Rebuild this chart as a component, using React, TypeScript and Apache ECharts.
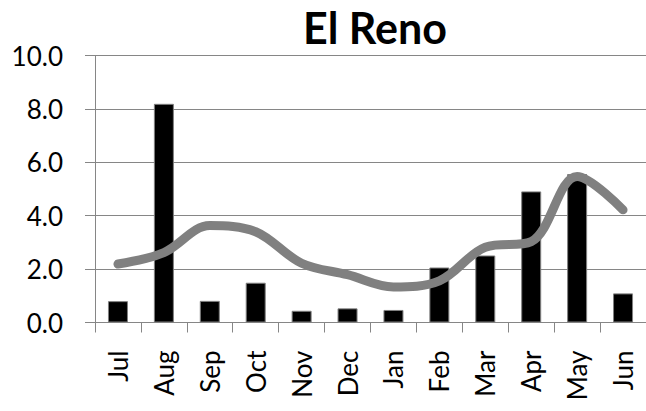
import React, { useEffect, useRef } from "react";
import * as echarts from "echarts";

const months = ["Jul", "Aug", "Sep", "Oct", "Nov", "Dec", "Jan", "Feb", "Mar", "Apr", "May", "Jun"];
const barValues = [0.8, 8.19, 0.81, 1.49, 0.44, 0.53, 0.47, 2.06, 2.51, 4.91, 5.56, 1.09];
const lineValues = [2.19, 2.62, 3.63, 3.4, 2.22, 1.79, 1.33, 1.56, 2.82, 3.03, 5.47, 4.22];
const yTicks = { min: 0, max: 10, interval: 2 };
const titleText = "El Reno";

export default function App() {
  const ref = useRef<HTMLDivElement>(null);
  useEffect(() => {
    if (!ref.current) return;
    const chart = echarts.init(ref.current, undefined, { renderer: "svg" });
    const font = "Lato, 'Open Sans', sans-serif";
    chart.setOption({
      animation: false,
      backgroundColor: "#ffffff",
      title: {
        text: titleText,
        left: 370,
        textAlign: "center",
        top: 1,
        textStyle: { fontFamily: font, fontWeight: "bold", fontSize: 43, color: "#000" },
      },
      grid: { left: 95, right: 0, top: 55.5, bottom: 88.5, containLabel: false },
      xAxis: {
        type: "category",
        data: months,
        boundaryGap: true,
        axisLine: { show: true, lineStyle: { color: "#868686", width: 1 } },
        axisTick: { show: true, length: 10, inside: false, lineStyle: { color: "#868686" } },
        axisLabel: {
          rotate: 90,
          margin: 28,
          fontFamily: font,
          fontSize: 26,
          color: "#000",
        },
        splitLine: { show: false },
      },
      yAxis: {
        type: "value",
        min: yTicks.min,
        max: yTicks.max,
        interval: yTicks.interval,
        axisLine: { show: true, lineStyle: { color: "#868686", width: 1 } },
        axisTick: { show: true, length: 10, lineStyle: { color: "#868686" } },
        axisLabel: {
          margin: 32,
          fontFamily: font,
          fontSize: 26,
          color: "#000",
          formatter: (v: number) => v.toFixed(1),
        },
        splitLine: { show: true, lineStyle: { color: "#868686", width: 1 } },
      },
      series: [
        {
          type: "bar",
          data: barValues,
          barWidth: 20,
          itemStyle: { color: "#000", borderColor: "#808080", borderWidth: 1 },
        },
        {
          type: "line",
          data: lineValues,
          smooth: 0.35,
          smoothMonotone: "none",
          symbol: "none",
          lineStyle: { color: "#808080", width: 9, cap: "round" },
        },
      ],
    });
    return () => chart.dispose();
  }, []);
  return <div ref={ref} style={{ width: 646, height: 411, position: "absolute", left: 0, top: 0 }} />;
}
